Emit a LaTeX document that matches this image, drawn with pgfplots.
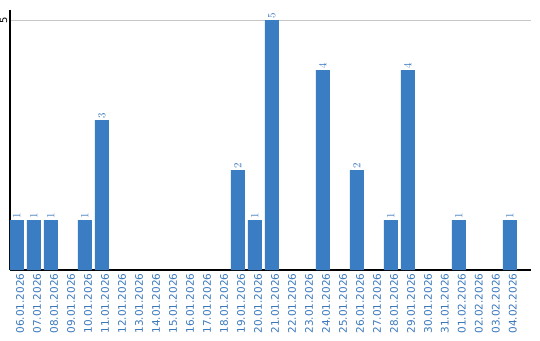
\documentclass[border=0pt]{standalone}
\usepackage{pgfplots}
\pgfplotsset{compat=1.18}
\usepackage{fontspec}
\setmainfont{DejaVu Sans}
\definecolor{barblue}{HTML}{3A7DC2}
\definecolor{txtblue}{HTML}{3A78BC}
\begin{document}
\begin{tikzpicture}[x=1bp,y=1bp]
\useasboundingbox (0,0) rectangle (540,340);
\begin{axis}[
  at={(10bp,70bp)}, anchor=south west,
  scale only axis, width=521bp, height=260bp,
  xmin=-0.41, xmax=30.24, ymin=0, ymax=5.2,
  axis x line=bottom, axis y line=left,
  axis line style={black, line width=1.2pt, -},
  ytick={5}, yticklabels={5},
  ymajorgrids, grid style={color=black!22, line width=0.8pt},
  major tick length=0pt,
  yticklabel style={rotate=90, anchor=south, font=\fontsize{10}{12}\selectfont, inner sep=2.5bp},
  xtick={0,...,29},
  xticklabels={06.01.2026,07.01.2026,08.01.2026,09.01.2026,10.01.2026,11.01.2026,12.01.2026,13.01.2026,14.01.2026,15.01.2026,16.01.2026,17.01.2026,18.01.2026,19.01.2026,20.01.2026,21.01.2026,22.01.2026,23.01.2026,24.01.2026,25.01.2026,26.01.2026,27.01.2026,28.01.2026,29.01.2026,30.01.2026,31.01.2026,01.02.2026,02.02.2026,03.02.2026,04.02.2026},
  xticklabel style={rotate=90, anchor=east, text=txtblue, font=\fontsize{10.5}{12}\selectfont, yshift=-3bp},
  ybar, bar width=14bp,
  nodes near coords,
  nodes near coords style={rotate=90, anchor=west, text=txtblue, font=\fontsize{11}{13}\selectfont, inner sep=1.5bp},
  clip=false,
]
\addplot[fill=barblue, draw=none] coordinates {
(0,1) (1,1) (2,1) (4,1) (5,3) (13,2) (14,1) (15,5) (18,4) (20,2) (22,1) (23,4) (26,1) (29,1)
};
\end{axis}
\end{tikzpicture}
\end{document}
